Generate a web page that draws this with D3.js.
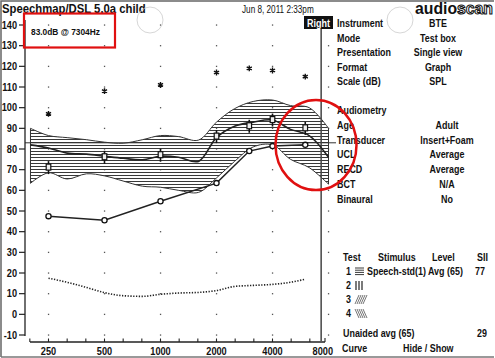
<!DOCTYPE html>
<html><head><meta charset="utf-8">
<script src="https://cdn.jsdelivr.net/npm/d3@7"></script>
<style>
html,body{margin:0;padding:0;background:#fff;}
svg{display:block;}
text{font-family:'Liberation Sans',Arial,sans-serif;font-weight:bold;fill:#111;}
</style></head>
<body>
<script>
// ---- data ----
const bandFreqs = [200,250,315,400,500,630,800,1000,1250,1600,2000,2500,3150,4000,5000,6300,8000];
const bandUpper = [90,86.5,85.5,84.5,83.3,82.8,84.5,86.5,86,84.3,93,99.5,103,103.7,101,100,90];
const bandLower = [63.4,68.5,65.5,68,67,64.5,62,61.5,60,59,66,74,81,82,75,71,63];
const ltass     = [82,80.5,78,77.5,76.5,75.5,74.8,76.5,76,74,85.5,91,93,94,89.5,86.5,76];
const audFreqs  = [250,500,1000,2000,3000,4000,6000];
const thresholds= [47.5,45.5,54.7,63.5,79,81.4,82];
const ucl       = [97,108,111,117,119,118,115];
const targets   = [71,76,77,86,91,94,90];
const normFreqs = [250,315,400,500,630,800,1000,1250,1600,2000,2500,3150,4000,5000,6000];
const normLine  = [17.5,15.5,13,10.5,9,8.7,9.7,10.3,10.6,11.5,13.5,14,14.5,15.5,17];
const xTicks = [250,500,1000,2000,4000,8000];
const yTicks = [140,130,120,110,100,90,80,70,60,50,40,30,20,10,0,-10];
const cursorFreq = 7304, cursorDb = 83.0;
const infoLabels1 = ["Instrument","Mode","Presentation","Format","Scale (dB)"];
const infoValues1 = ["BTE","Test box","Single view","Graph","SPL"];
const infoLabels2 = ["Audiometry","Age","Transducer","UCL","RECD","BCT","Binaural"];
const infoValues2 = ["","Adult","Insert+Foam","Average","Average","N/A","No"];

const W=495,H=358;
const svg=d3.select("body").append("svg").attr("width",W).attr("height",H);
const x=d3.scaleLog().domain([250,8000]).range([48.5,328.5]);
const y=d3.scaleLinear().domain([-10,140]).range([335,25]);

function txt(px,py,s,o){
  o=o||{};
  const g=svg.append("g").attr("transform",`translate(${px},${py}) scale(${o.sx||0.85},1)`);
  const t=g.append("text").attr("font-size",o.size||10.5).attr("text-anchor",o.anchor||"start").text(s);
  if(o.weight) t.style("font-weight",o.weight);
  if(o.fill) t.style("fill",o.fill);
  return t;
}

// frame
svg.append("path").attr("d","M1,357 L1,1 L494,1").attr("fill","none").attr("stroke","#666").attr("stroke-width",1.5);
svg.append("line").attr("x1",1).attr("x2",494).attr("y1",357).attr("y2",357).attr("stroke","#777").attr("stroke-width",1.5);

const defs=svg.append("defs");
const pat=defs.append("pattern").attr("id","hatch").attr("patternUnits","userSpaceOnUse").attr("width",6).attr("height",3);
pat.append("line").attr("x1",0).attr("x2",6).attr("y1",1.5).attr("y2",1.5).attr("stroke","#3a3a3a").attr("stroke-width",1);

// grid dots
const gridF=[250,500,1000,2000,4000,8000];
const gridD=d3.range(-10,141,10);
const gd=[];gridF.forEach(f=>gridD.forEach(d=>gd.push([f,d])));
svg.append("g").selectAll("rect").data(gd).join("rect")
 .attr("x",d=>x(d[0])-0.6).attr("y",d=>y(d[1])-0.6).attr("width",1.3).attr("height",1.3).attr("fill","#555");

// band
const bandData=bandFreqs.map((f,i)=>({f,u:bandUpper[i],l:bandLower[i]}));
const curve=d3.curveCatmullRom.alpha(0.5);
const area=d3.area().x(d=>x(d.f)).y0(d=>y(d.l)).y1(d=>y(d.u)).curve(curve);
svg.append("path").datum(bandData).attr("d",area).attr("fill","url(#hatch)").attr("stroke","#333").attr("stroke-width",1);

// cursor lines
svg.append("line").attr("x1",25).attr("x2",336).attr("y1",y(cursorDb)).attr("y2",y(cursorDb)).attr("stroke","#333").attr("stroke-width",1);
svg.append("line").attr("x1",x(cursorFreq)).attr("x2",x(cursorFreq)).attr("y1",29).attr("y2",341).attr("stroke","#444").attr("stroke-width",1.5);

// LTASS
svg.append("path").datum(bandFreqs.map((f,i)=>[f,ltass[i]])).attr("d",d3.line().x(d=>x(d[0])).y(d=>y(d[1])).curve(curve)).attr("fill","none").attr("stroke","#222").attr("stroke-width",1.6);

// thresholds
const thr=audFreqs.map((f,i)=>[f,thresholds[i]]);
svg.append("path").datum(thr).attr("d",d3.line().x(d=>x(d[0])).y(d=>y(d[1]))).attr("fill","none").attr("stroke","#222").attr("stroke-width",1.5);
svg.append("g").selectAll("circle").data(thr).join("circle").attr("cx",d=>x(d[0])).attr("cy",d=>y(d[1])).attr("r",2.6)
 .attr("fill","#fff").attr("stroke","#111").attr("stroke-width",1.3);

// targets
const tg=svg.append("g").selectAll("g").data(audFreqs.map((f,i)=>[f,targets[i]])).join("g")
 .attr("transform",d=>`translate(${x(d[0])},${y(d[1])})`);
tg.append("line").attr("y1",-6.5).attr("y2",6.5).attr("stroke","#111").attr("stroke-width",1.6);
tg.append("rect").attr("x",-2.3).attr("y",-3.5).attr("width",4.6).attr("height",6).attr("fill","#eee").attr("stroke","#111").attr("stroke-width",1.2);

// UCL asterisks
svg.append("g").selectAll("path").data(audFreqs.map((f,i)=>[f,ucl[i]])).join("path")
 .attr("transform",d=>`translate(${x(d[0])},${y(d[1])})`)
 .attr("d",d3.symbol(d3.symbolAsterisk,24)).attr("fill","none").attr("stroke","#111").attr("stroke-width",1.4);

// normal threshold dotted line
svg.append("path").datum(normFreqs.map((f,i)=>[f,normLine[i]])).attr("d",d3.line().x(d=>x(d[0])).y(d=>y(d[1])).curve(d3.curveMonotoneX))
 .attr("fill","none").attr("stroke","#222").attr("stroke-width",1.6).attr("stroke-dasharray","1.3,1.5");

// y axis
svg.append("line").attr("x1",25).attr("x2",25).attr("y1",20).attr("y2",336).attr("stroke","#222").attr("stroke-width",1.3);
const ya=svg.append("g");
ya.selectAll("line").data(yTicks).join("line").attr("x1",19).attr("x2",25).attr("y1",d=>y(d)).attr("y2",d=>y(d)).attr("stroke","#222").attr("stroke-width",1.2);
yTicks.forEach(d=>txt(17,y(d)+3.5,d,{size:10,anchor:"end",sx:0.92}));

// x axis
const xa=svg.append("g");
xa.append("line").attr("x1",30).attr("x2",325).attr("y1",342).attr("y2",342).attr("stroke","#222").attr("stroke-width",1.3);
const minor=d3.range(-1,15).map(k=>250*Math.pow(2,k/3));
xa.selectAll("line.t").data(minor).join("line").attr("class","t").attr("x1",d=>x(d)).attr("x2",d=>x(d)).attr("y1",342).attr("y2",338.5).attr("stroke","#222").attr("stroke-width",1.1);
xa.append("line").attr("x1",325).attr("x2",325).attr("y1",342).attr("y2",338).attr("stroke","#222").attr("stroke-width",1.1);
xTicks.forEach(d=>txt(d===8000?333:x(d),355,d,{size:10,anchor:d===8000?"end":"middle",sx:0.92}));

// header
txt(2,13,"Speechmap/DSL 5.0a child",{size:13,sx:0.87});
txt(242,13,"Jun 8, 2011 2:33pm",{size:10,sx:0.82,weight:"normal"});
const logo=svg.append("text").attr("x",415).attr("y",14).attr("font-size",17).attr("textLength",78).attr("lengthAdjust","spacingAndGlyphs").style("font-weight","900");
logo.append("tspan").text("audio");
logo.append("tspan").attr("stroke","#111").attr("stroke-width",1.1).style("fill","#fff").text("scan");
// faint scanner circles
svg.append("circle").attr("cx",150).attr("cy",20).attr("r",13).attr("fill","none").attr("stroke","#ccc").attr("stroke-width",0.8);
svg.append("circle").attr("cx",400).attr("cy",20).attr("r",13).attr("fill","none").attr("stroke","#ccc").attr("stroke-width",0.8);

// cursor readout
txt(31,35,cursorDb.toFixed(1)+"dB @ "+cursorFreq+"Hz",{size:9.5,sx:0.88});

// Right label
svg.append("rect").attr("x",304).attr("y",16).attr("width",29).attr("height",13).attr("fill","#111");
txt(318.5,26.5,"Right",{size:10,anchor:"middle",sx:0.9,fill:"#fff"});

// info panel
infoLabels1.forEach((t,i)=>{
  txt(337,27+i*14.6,t);
  txt(438,27+i*14.6,infoValues1[i],{anchor:"middle"});
});
infoLabels2.forEach((t,i)=>{
  txt(337,114+i*14.8,t);
  if(infoValues2[i]) txt(447,114+i*14.8,infoValues2[i],{anchor:"middle"});
});

// legend table
txt(343,261,"Test"); txt(378,261,"Stimulus"); txt(432,261,"Level"); txt(477,261,"SII");
const rowsY=[275,289,303,317];
rowsY.forEach((ry,i)=>txt(346,ry,i+1));
const ic=svg.append("g").attr("stroke","#222").attr("stroke-width",0.9);
[0,1,2,3].forEach(k=>{ic.append("line").attr("x1",355).attr("x2",364).attr("y1",268+k*2.2).attr("y2",268+k*2.2);});
[0,1,2].forEach(k=>{ic.append("line").attr("x1",356+k*3).attr("x2",356+k*3).attr("y1",281).attr("y2",290).attr("stroke-width",1.2);});
[0,1,2,3,4].forEach(k=>{ic.append("line").attr("x1",355+k*2).attr("x2",359+k*2).attr("y1",304).attr("y2",295).attr("stroke","#666");});
[0,1,2,3,4].forEach(k=>{ic.append("line").attr("x1",355+k*2).attr("x2",359+k*2).attr("y1",309).attr("y2",318).attr("stroke","#666");});
txt(367,275,"Speech-std(1)"); txt(428,275,"Avg (65)"); txt(475,275,"77");
txt(343,337,"Unaided avg (65)"); txt(477,337,"29");
txt(342,352,"Curve"); txt(403,352,"Hide / Show");

// red annotations
svg.append("rect").attr("x",24).attr("y",13.5).attr("width",91).attr("height",34).attr("fill","none").attr("stroke","#e01010").attr("stroke-width",2.2);
svg.append("ellipse").attr("cx",316).attr("cy",145).attr("rx",40.5).attr("ry",45).attr("fill","none").attr("stroke","#e01010").attr("stroke-width",2.5);
</script>
</body></html>
